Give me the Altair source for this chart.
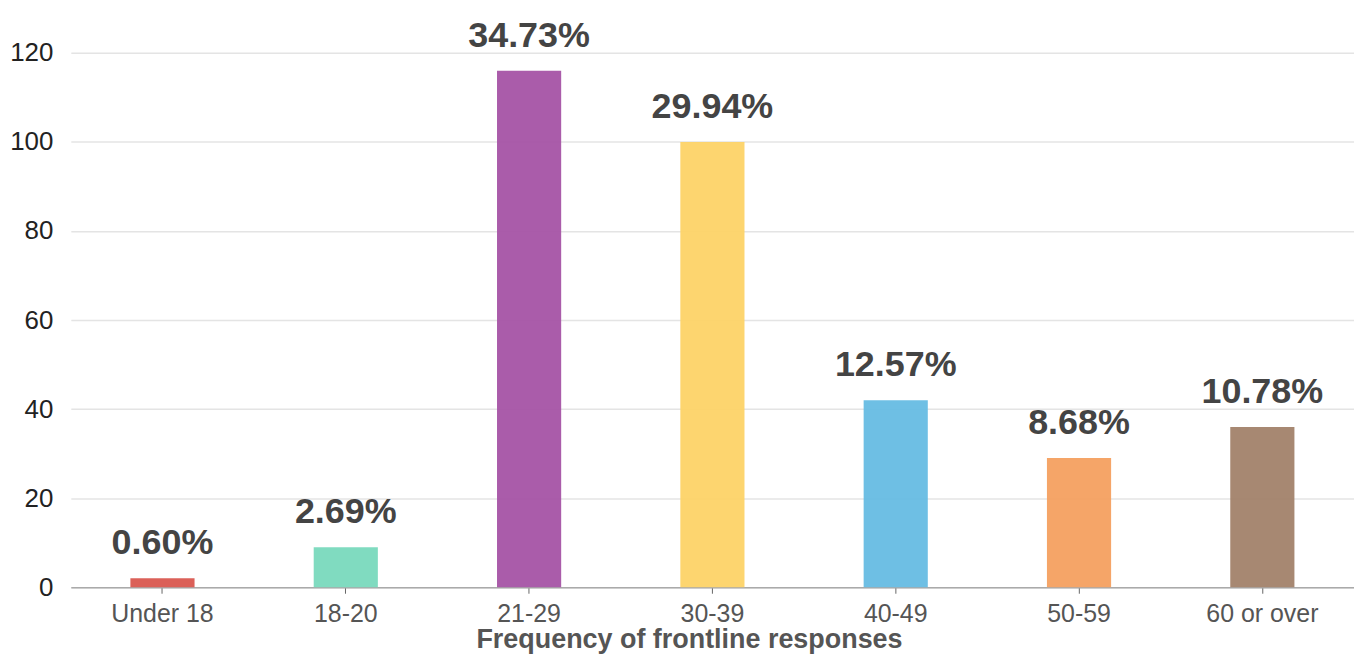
import altair as alt
import pandas as pd

categories = ["Under 18", "18-20", "21-29", "30-39", "40-49", "50-59", "60 or over"]
counts = [2, 9, 116, 100, 42, 29, 36]
pct_labels = ["0.60%", "2.69%", "34.73%", "29.94%", "12.57%", "8.68%", "10.78%"]
colors = ["#d9574f", "#79d9bd", "#a553a5", "#fdd367", "#66bce3", "#f4a060", "#a2826a"]
y_ticks = [0, 20, 40, 60, 80, 100, 120]

df = pd.DataFrame({"cat": categories, "count": counts, "label": pct_labels})

FONT = "Liberation Sans"

x_enc = alt.X(
    "cat:N",
    sort=categories,
    scale=alt.Scale(paddingInner=0.65, paddingOuter=0.325),
    axis=alt.Axis(
        title="Frequency of frontline responses",
        titleFont=FONT,
        titleFontSize=27,
        titleFontWeight="bold",
        titleColor="#555555",
        titlePadding=0,
        titleX=620,
        titleAlign="center",
        labelFont=FONT,
        labelFontSize=25,
        labelColor="#555555",
        labelPadding=8,
        labelAngle=0,
        domainColor="#aaaaaa",
        domainWidth=1.5,
        tickColor="#666666",
        tickSize=6,
        grid=False,
    ),
)

y_enc = alt.Y(
    "count:Q",
    scale=alt.Scale(domain=[0, 120], nice=False),
    axis=alt.Axis(
        title=None,
        values=y_ticks,
        labelFont=FONT,
        labelFontSize=26,
        labelColor="#222222",
        labelPadding=18,
        domain=False,
        ticks=False,
        gridColor="#e4e4e4",
        gridWidth=1.5,
    ),
)

bars = alt.Chart(df).mark_bar(opacity=0.95).encode(
    x=x_enc,
    y=y_enc,
    color=alt.Color("cat:N", sort=categories,
                    scale=alt.Scale(domain=categories, range=colors), legend=None),
)

labels = alt.Chart(df).mark_text(
    font=FONT, fontSize=36, fontWeight="bold", color="#444444",
    baseline="alphabetic", dy=-24,
).encode(
    x=alt.X("cat:N", sort=categories),
    y="count:Q",
    text="label:N",
)

chart = (bars + labels).properties(
    width=1287,
    height=536,
    autosize=alt.AutoSizeParams(type="none"),
    padding={"left": 63, "top": 44, "right": 0, "bottom": 66},
).configure_view(stroke=None)

chart.save("out.html", embed_options={"renderer": "svg", "actions": False})
